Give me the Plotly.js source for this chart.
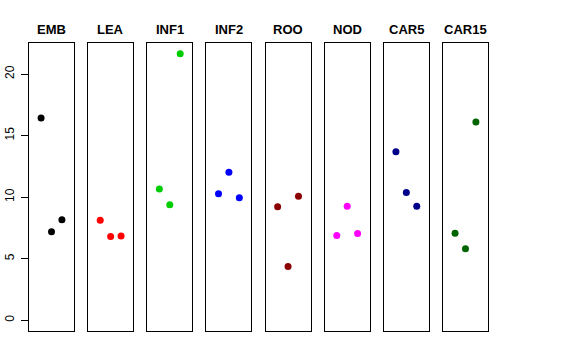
<!DOCTYPE html>
<html>
<head>
<meta charset="utf-8">
<script src="https://cdn.plot.ly/plotly-3.0.1.min.js"></script>
<style>html,body{margin:0;padding:0;background:#fff;}#chart{width:576px;height:360px;}</style>
</head>
<body>
<div id="chart"></div>
<script>
const panels = ["EMB", "LEA", "INF1", "INF2", "ROO", "NOD", "CAR5", "CAR15"];
const colors = ["#000000", "#FF0000", "#00CD00", "#0000FF", "#8B0000", "#FF00FF", "#00008B", "#006400"];
const xPos = [1, 2, 3];
const EMB = [16.42, 7.2, 8.17];
const LEA = [8.12, 6.8, 6.85];
const INF1 = [10.66, 9.39, 21.64];
const INF2 = [10.28, 12.02, 9.96];
const ROO = [9.23, 4.36, 10.07];
const NOD = [6.88, 9.26, 7.04];
const CAR5 = [13.69, 10.37, 9.26];
const CAR15 = [7.07, 5.8, 16.1];
const yTicks = [0, 5, 10, 15, 20];
const series = [EMB, LEA, INF1, INF2, ROO, NOD, CAR5, CAR15];

const plotW = 459, step = 59.14, panelW = 45;
const yRange = [-0.87, 22.52];
const xRange = [-0.16, 4.16];

const data = [];
const layout = {
  width: 576, height: 360,
  margin: {l: 29, r: 88, t: 43, b: 29},
  paper_bgcolor: "#fff", plot_bgcolor: "#fff",
  showlegend: false,
  font: {family: "Liberation Sans, Arial, sans-serif", color: "#000"},
  annotations: []
};

panels.forEach((name, i) => {
  const sfx = i === 0 ? "" : String(i + 1);
  data.push({
    type: "scatter", mode: "markers",
    x: xPos, y: series[i],
    xaxis: "x" + sfx, yaxis: "y" + sfx,
    marker: {color: colors[i], size: 7},
    hoverinfo: "skip"
  });
  const d0 = (i * step) / plotW, d1 = (i * step + panelW) / plotW;
  layout["xaxis" + sfx] = {
    domain: [d0, Math.min(d1, 1)], range: xRange, anchor: "y" + sfx,
    showgrid: false, zeroline: false, showticklabels: false, ticks: "",
    showline: true, mirror: true, linecolor: "#000", linewidth: 1
  };
  const ya = {
    domain: [0, 1], range: yRange, anchor: "x" + sfx,
    showgrid: false, zeroline: false,
    showline: true, mirror: true, linecolor: "#000", linewidth: 1
  };
  if (i === 0) {
    Object.assign(ya, {
      tickvals: yTicks, ticktext: yTicks.map(String), ticks: "outside", ticklen: 7,
      tickcolor: "#000", tickangle: -90, tickfont: {size: 12, color: "#000"}, ticklabelstandoff: 2
    });
  } else {
    Object.assign(ya, {showticklabels: false, ticks: ""});
  }
  layout["yaxis" + sfx] = ya;
  layout.annotations.push({
    text: "<b>" + name + "</b>", xref: "paper", yref: "paper",
    x: (d0 + d1) / 2, y: 1, xanchor: "center", yanchor: "middle", yshift: 14,
    showarrow: false, font: {size: 13, color: "#000"}
  });
});

Plotly.newPlot("chart", data, layout, {displayModeBar: false, staticPlot: true});
</script>
</body>
</html>
